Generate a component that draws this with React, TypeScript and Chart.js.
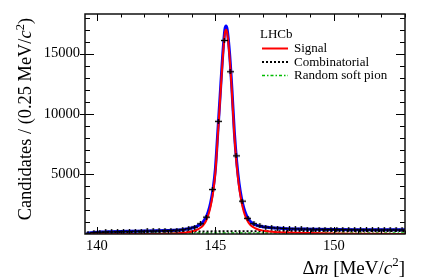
import { useEffect, useRef } from 'react';
import { Chart, registerables } from 'chart.js';
Chart.register(...registerables);

// Histogram (0.25 MeV bins)
const binCenters = [
  139.625, 139.875, 140.125, 140.375, 140.625, 140.875, 141.125, 141.375, 141.625, 141.875,
  142.125, 142.375, 142.625, 142.875, 143.125, 143.375, 143.625, 143.875, 144.125, 144.375,
  144.625, 144.875, 145.125, 145.375, 145.625, 145.875, 146.125, 146.375, 146.625, 146.875,
  147.125, 147.375, 147.625, 147.875, 148.125, 148.375, 148.625, 148.875, 149.125, 149.375,
  149.625, 149.875, 150.125, 150.375, 150.625, 150.875, 151.125, 151.375, 151.625, 151.875,
  152.125, 152.375, 152.625, 152.875,
];
const binCounts = [
  45, 115, 150, 175, 185, 205, 215, 220, 230, 240,
  250, 255, 270, 285, 300, 325, 365, 440, 570, 850,
  1400, 3700, 9370, 16100, 13500, 6500, 2730, 1300, 860, 680,
  570, 520, 490, 460, 440, 430, 420, 410, 400, 395,
  385, 380, 378, 372, 368, 362, 360, 358, 356, 352,
  350, 352, 348, 350,
];

// Total fit (blue)
const totalX = [139.57, 139.6, 139.7, 139.9, 140.2, 140.6, 141.0, 141.5, 142.0, 142.5, 143.0, 143.3, 143.6, 143.8, 144.0, 144.2, 144.4, 144.5, 144.6, 144.7, 144.8, 144.9, 145.0, 145.1, 145.2, 145.3, 145.4, 145.45, 145.5, 145.6, 145.7, 145.8, 145.9, 146.0, 146.1, 146.2, 146.3, 146.4, 146.5, 146.7, 147.0, 147.5, 148.0, 149.0, 150.0, 151.0, 152.0, 153.0];
const totalY = [0, 30, 80, 125, 162, 188, 210, 228, 245, 263, 290, 314, 360, 412, 500, 618, 851, 1052, 1350, 1850, 2600, 3700, 5400, 8400, 11500, 14600, 17000, 17300, 17000, 15000, 12000, 8500, 6000, 4210, 3000, 2150, 1600, 1250, 1000, 760, 598, 500, 445, 405, 379, 363, 353, 349];

// Signal (red)
const signalX = [139.5, 142.0, 142.5, 143.0, 143.3, 143.6, 143.8, 144.0, 144.2, 144.4, 144.5, 144.6, 144.7, 144.8, 144.9, 145.0, 145.1, 145.2, 145.3, 145.4, 145.45, 145.5, 145.6, 145.7, 145.8, 145.9, 146.0, 146.1, 146.2, 146.3, 146.4, 146.5, 146.7, 147.0, 147.5, 148.0, 149.0, 150.0, 151.0, 152.0, 153.0];
const signalY = [0, 2, 5, 20, 40, 80, 130, 215, 330, 560, 760, 1060, 1560, 2310, 3410, 5110, 8100, 11200, 14300, 16700, 17000, 16700, 14700, 11700, 8200, 5700, 3900, 2700, 1850, 1300, 950, 700, 460, 280, 170, 120, 75, 45, 25, 12, 5];

// Combinatorial (black dotted)
const combX = [139.57, 139.7, 140.0, 140.5, 141.0, 142.0, 143.0, 144.0, 145.0, 146.0, 147.0, 148.0, 149.0, 150.0, 151.0, 152.0, 153.0];
const combY = [0, 60, 110, 140, 160, 185, 200, 210, 220, 228, 234, 240, 244, 248, 252, 255, 258];

// Random soft pion (green dash-dot)
const softPionX = [139.57, 139.7, 140.0, 141.0, 142.0, 143.0, 144.0, 145.0, 146.0, 147.0, 148.0, 150.0, 153.0];
const softPionY = [0, 20, 35, 50, 60, 70, 75, 80, 82, 84, 85, 86, 86];

const xTickLabels = [140, 145, 150];
const yTickLabels = [5000, 10000, 15000];
const legendTitle = 'LHCb';
const legendLabels = ['Signal', 'Combinatorial', 'Random soft pion'];

const SERIF = '"Liberation Serif", "Times New Roman", serif';

type Seg = { t: string; italic?: boolean; sup?: boolean };
const xTitle: Seg[] = [{ t: 'Δ' }, { t: 'm', italic: true }, { t: ' [MeV/' }, { t: 'c', italic: true }, { t: '2', sup: true }, { t: ']' }];
const yTitle: Seg[] = [{ t: 'Candidates / (0.25 MeV/' }, { t: 'c', italic: true }, { t: '2', sup: true }, { t: ')' }];

function drawRich(ctx: CanvasRenderingContext2D, segs: Seg[], x: number, y: number, size: number, align: 'left' | 'right') {
  const fontFor = (s: Seg) => `${s.italic ? 'italic ' : ''}${s.sup ? size * 0.68 : size}px ${SERIF}`;
  let w = 0;
  for (const s of segs) { ctx.font = fontFor(s); w += ctx.measureText(s.t).width; }
  let cx = align === 'right' ? x - w : x;
  ctx.textAlign = 'left';
  ctx.textBaseline = 'alphabetic';
  for (const s of segs) {
    ctx.font = fontFor(s);
    ctx.fillText(s.t, cx, s.sup ? y - size * 0.38 : y);
    cx += ctx.measureText(s.t).width;
  }
}

const decor = {
  id: 'decor',
  afterDraw(chart: any) {
    const { ctx, chartArea: a, scales } = chart;
    const xs = scales.x, ys = scales.y;
    const seg = (x1: number, y1: number, x2: number, y2: number) => { ctx.beginPath(); ctx.moveTo(x1, y1); ctx.lineTo(x2, y2); ctx.stroke(); };
    ctx.save();
    ctx.strokeStyle = '#000';
    ctx.lineWidth = 1;
    for (let v = 140; v <= 153; v += 1) {
      const px = Math.round(xs.getPixelForValue(v)) + 0.5;
      const len = v % 5 === 0 ? 7 : 3.5;
      seg(px, a.bottom, px, a.bottom - len);
      seg(px, a.top, px, a.top + len);
    }
    for (let v = 1000; v <= 18000; v += 1000) {
      const py = Math.round(ys.getPixelForValue(v)) + 0.5;
      const major = v % 5000 === 0;
      const len = major ? 9 : 5;
      seg(a.left - (major ? 5 : 0), py, a.left + len, py);
      seg(a.right, py, a.right - len, py);
    }
    ctx.lineWidth = 1.5;
    ctx.strokeStyle = '#111';
    ctx.strokeRect(a.left, a.top, a.right - a.left, a.bottom - a.top);

    // legend
    ctx.fillStyle = '#000';
    ctx.font = `13px ${SERIF}`;
    ctx.textAlign = 'left';
    ctx.textBaseline = 'alphabetic';
    ctx.fillText(legendTitle, 260, 37.5);
    const rows = [
      { y: 48.5, color: '#ff0000', dash: [] as number[], w: 2 },
      { y: 62, color: '#000000', dash: [2, 2], w: 2 },
      { y: 75.5, color: '#00bb00', dash: [3, 2, 1.5, 2], w: 1.5 },
    ];
    rows.forEach((r, i) => {
      ctx.strokeStyle = r.color;
      ctx.lineWidth = r.w;
      ctx.setLineDash(r.dash);
      seg(262, r.y, 288, r.y);
      ctx.setLineDash([]);
      ctx.fillText(legendLabels[i], 294, r.y + 3.5);
    });

    // axis titles
    ctx.fillStyle = '#000';
    drawRich(ctx, xTitle, 405, 273.5, 19, 'right');
    ctx.save();
    ctx.translate(30.5, 18);
    ctx.rotate(-Math.PI / 2);
    drawRich(ctx, yTitle, 0, 0, 18.4, 'right');
    ctx.restore();
    ctx.restore();
  },
};

function makeMarker() {
  const c = document.createElement('canvas');
  c.width = 7; c.height = 5;
  const g = c.getContext('2d')!;
  g.strokeStyle = '#000';
  g.lineWidth = 1.4;
  g.beginPath(); g.moveTo(0, 2.5); g.lineTo(7, 2.5); g.stroke();
  g.beginPath(); g.moveTo(3.5, 0); g.lineTo(3.5, 5); g.stroke();
  return c;
}

export default function App() {
  const ref = useRef<HTMLCanvasElement>(null);
  useEffect(() => {
    if (!ref.current) return;
    const pts = (xs: number[], ys: number[]) => xs.map((x, i) => ({ x, y: ys[i] }));
    const marker = makeMarker();
    const tickFont = { family: SERIF, size: 14.5 };
    const chart = new Chart(ref.current, {
      type: 'scatter',
      data: {
        datasets: [
          { label: 'Data', data: pts(binCenters, binCounts), pointStyle: marker as any, pointRadius: 3, showLine: false },
          { label: 'Signal', data: pts(signalX, signalY), showLine: true, borderColor: '#ff0000', borderWidth: 2, pointRadius: 0, cubicInterpolationMode: 'monotone' },
          { label: 'Combinatorial', data: pts(combX, combY), showLine: true, borderColor: '#000000', borderWidth: 2, borderDash: [2, 2], pointRadius: 0, cubicInterpolationMode: 'monotone' },
          { label: 'Random soft pion', data: pts(softPionX, softPionY), showLine: true, borderColor: '#00bb00', borderWidth: 1.5, borderDash: [3, 2, 1.5, 2], pointRadius: 0, cubicInterpolationMode: 'monotone' },
          { label: 'Total', data: pts(totalX, totalY), showLine: true, borderColor: '#0000ff', borderWidth: 3, pointRadius: 0, cubicInterpolationMode: 'monotone' },
        ] as any,
      },
      options: {
        animation: false,
        responsive: false,
        devicePixelRatio: 1,
        layout: { padding: { top: 14, right: 22, left: 0, bottom: 0 } },
        plugins: { legend: { display: false }, tooltip: { enabled: false } },
        events: [],
        scales: {
          x: {
            type: 'linear', min: 139.5, max: 153,
            grid: { display: false, drawTicks: false }, border: { display: false },
            afterBuildTicks: (s: any) => { s.ticks = xTickLabels.map((v) => ({ value: v })); },
            afterFit: (s: any) => { s.height = 44; },
            ticks: { font: tickFont, color: '#000', padding: 3, maxRotation: 0, autoSkip: false, callback: (v: any) => String(v) },
          },
          y: {
            type: 'linear', min: 0, max: 18300,
            grid: { display: false, drawTicks: false }, border: { display: false },
            afterBuildTicks: (s: any) => { s.ticks = yTickLabels.map((v) => ({ value: v })); },
            afterFit: (s: any) => { s.width = 85; },
            ticks: { font: tickFont, color: '#000', padding: 5, autoSkip: false, callback: (v: any) => String(v) },
          },
        },
      },
      plugins: [decor],
    });
    return () => chart.destroy();
  }, []);
  return (
    <div style={{ position: 'absolute', left: 0, top: 0, width: 427, height: 278 }}>
      <canvas ref={ref} width={427} height={278} style={{ display: 'block', width: 427, height: 278 }} />
    </div>
  );
}
